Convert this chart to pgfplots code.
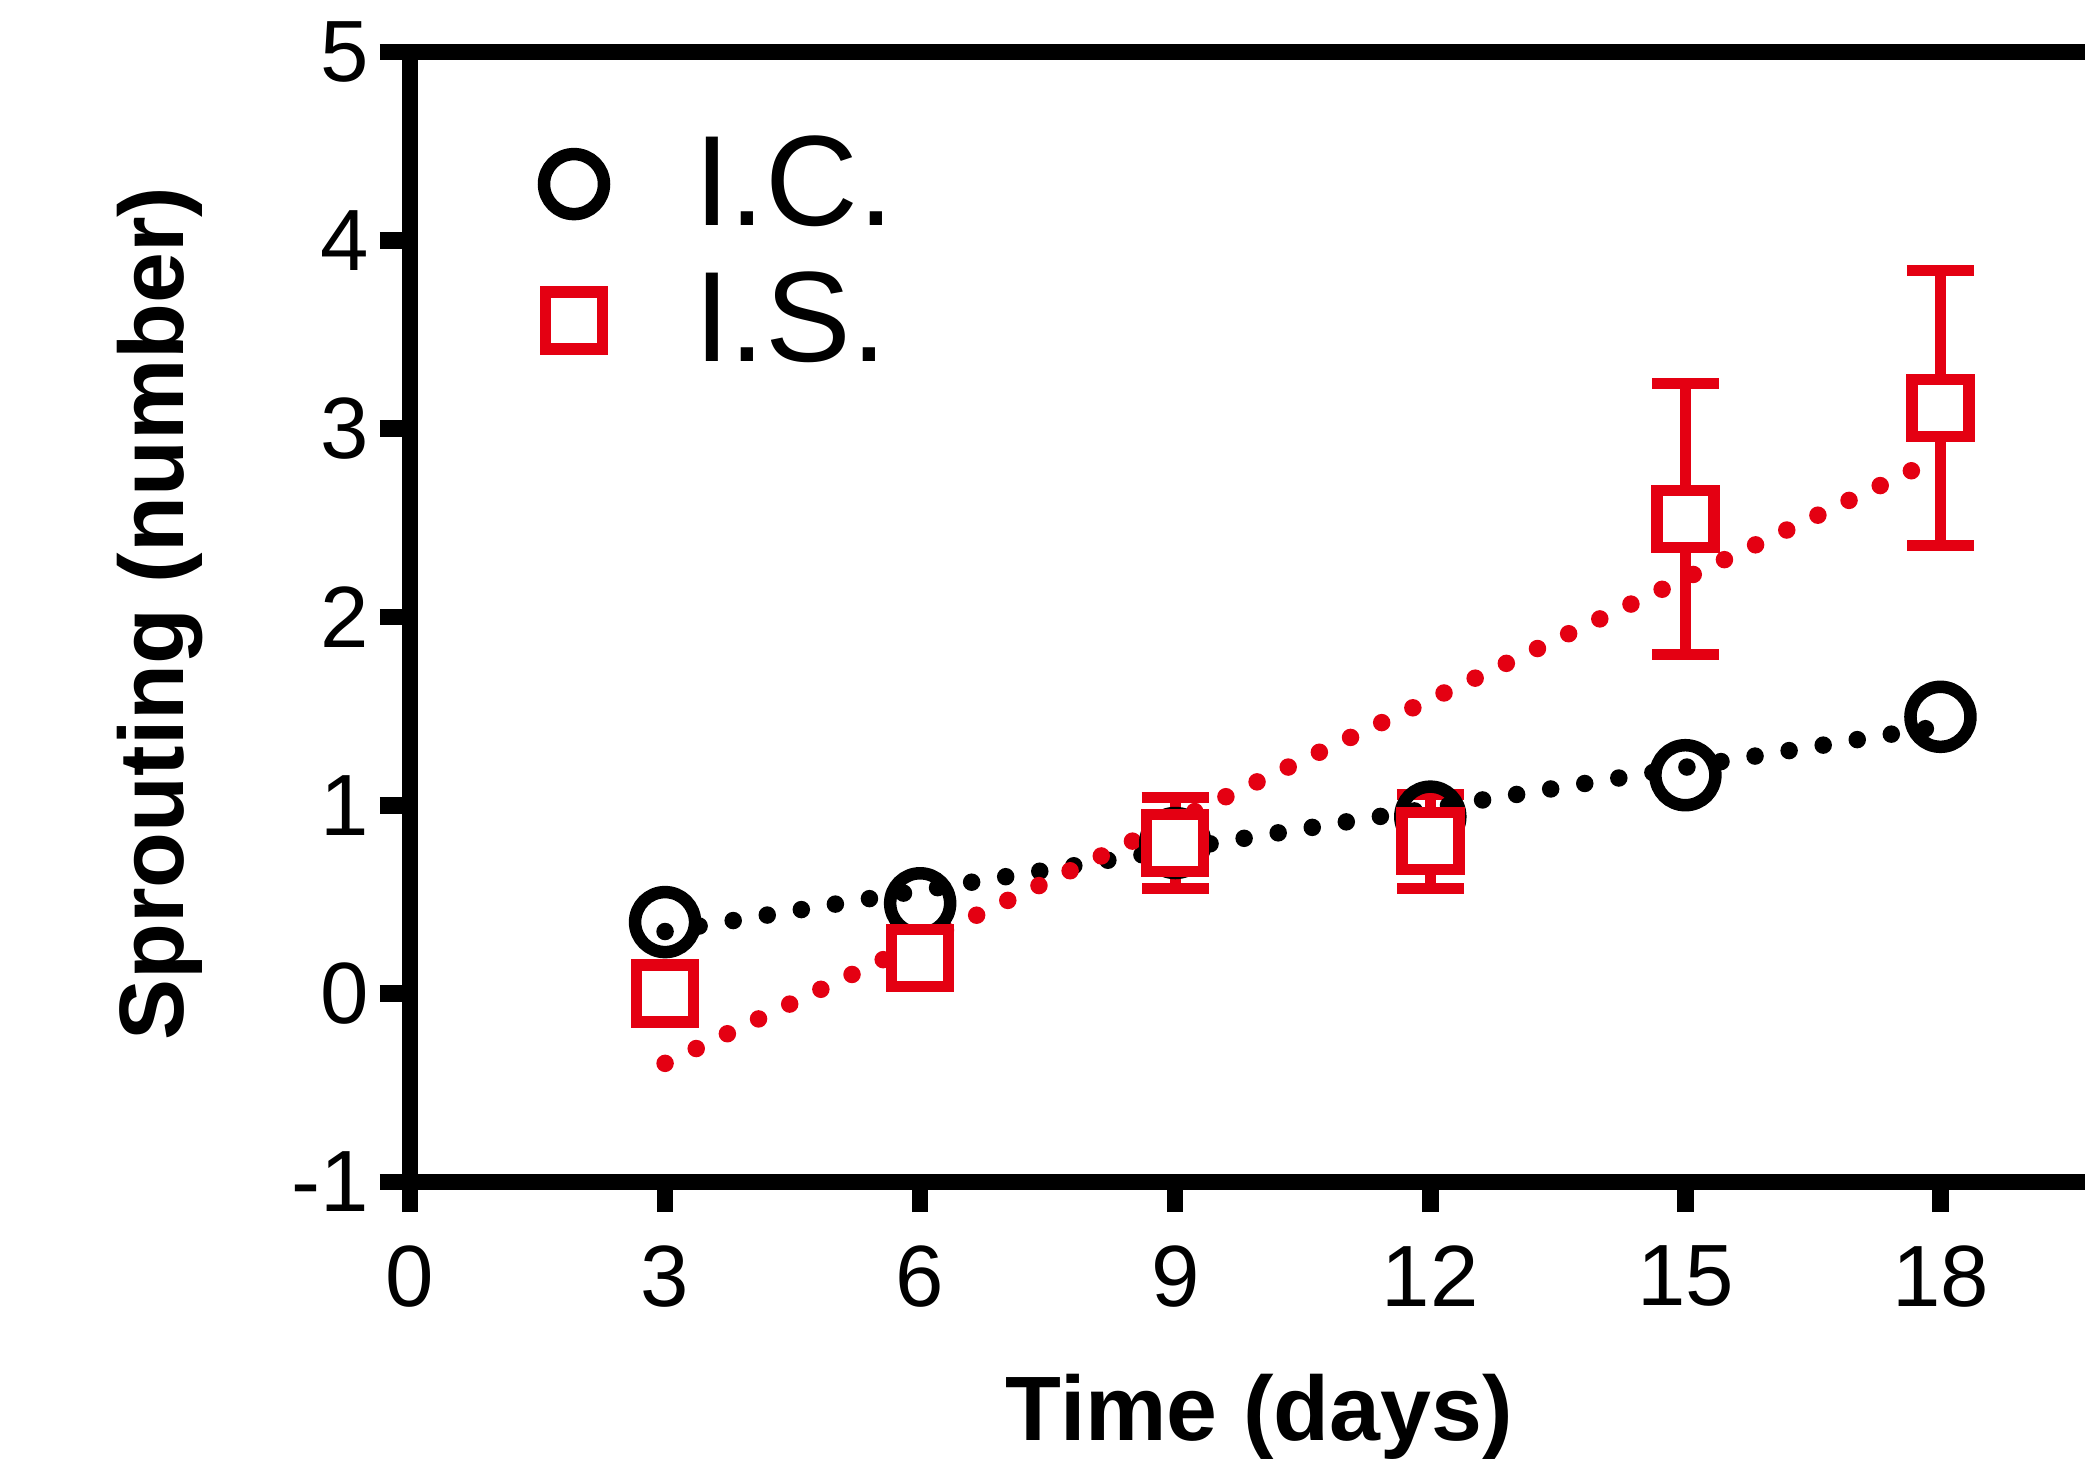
\documentclass[border=0pt]{standalone}
\usepackage{fontspec}
\setmainfont{Liberation Sans}
\usepackage{pgfplots}
\usepackage{pgfplotstable}
\pgfplotsset{compat=1.18}

\definecolor{isred}{RGB}{228,0,18}

% Sprouting counts over time
\pgfplotstableread{
x   y
3   0.38
6   0.48
9   0.80
12  0.94
15  1.16
18  1.47
}\ictable

\pgfplotstableread{
x   y     e
3   0.00  0
6   0.19  0
9   0.80  0.24
12  0.81  0.25
15  2.52  0.72
18  3.11  0.73
}\istable

% Linear fits, end points at day 3 and day 18
\pgfplotstableread{
x   y
3   0.33
18  1.42
}\icfit

\pgfplotstableread{
x   y
3   -0.37
18  2.85
}\isfit

\begin{document}
\begin{tikzpicture}
\begin{axis}[
  scale only axis,
  width=335pt, height=226pt,
  xmin=0, xmax=19.7, ymin=-1, ymax=5,
  clip=false,
  axis x line*=box, axis y line*=left,
  xtick pos=left,
  xtick={0,3,...,18}, ytick={-1,0,...,5},
  tick align=outside,
  major tick length=6pt,
  axis line style={line width=3.3pt, black},
  tick style={line width=3.3pt, black},
  /pgf/number format/assume math mode=true,
  tick label style={font=\fontsize{17.4}{20}\selectfont, inner sep=0pt},
  yticklabel style={xshift=-2pt},
  xticklabel style={yshift=-6.5pt},
  xlabel={Time (days)},
  ylabel={Sprouting (number)},
  label style={font=\fontsize{18.3}{22}\selectfont\bfseries},
  x label style={at={(axis description cs:0.507,0)}, anchor=center, yshift=-47pt},
  y label style={at={(axis description cs:-0.149,0.503)}, anchor=center},
  legend style={
    at={(rel axis cs:0.0794,0.927)}, anchor=north west,
    draw=none, fill=none, inner sep=0pt,
    font=\fontsize{25.7}{30}\selectfont,
    nodes={inner sep=0pt},
    row sep=7.8pt, column sep=18pt,
    cells={anchor=west},
  },
  legend image code/.code={\draw[#1, mark repeat=1] plot coordinates {(0pt,0pt)};},
]
\coordinate (O) at (rel axis cs:0,0);

% error bars of the I.S. group
\addplot[forget plot, only marks, mark=none, isred,
  error bars/.cd, y dir=both, y explicit,
  error bar style={line width=2.2pt, isred},
  error mark options={rotate=90, mark size=6.7pt, line width=2.2pt, isred}]
  table[x=x, y=y, y error=e] {\istable};

\addplot[only marks, mark=o, mark size=6pt, black,
  mark options={line width=2.5pt, fill=none}]
  table[x=x, y=y] {\ictable};
\addlegendentry{I.C.}

\addplot[only marks, mark=square*, mark size=5.7pt, isred,
  mark options={line width=2.3pt, draw=isred, fill=white}]
  table[x=x, y=y] {\istable};
\addlegendentry{I.S.}

% dotted trend lines
\addplot[forget plot, black, line width=3.5pt, line cap=round,
  dash pattern=on 0pt off 6.9pt] table[x=x, y=y] {\icfit};
\addplot[forget plot, isred, line width=3.5pt, line cap=round,
  dash pattern=on 0pt off 6.9pt] table[x=x, y=y] {\isfit};
\end{axis}
\pgfresetboundingbox
\path[use as bounding box] ([xshift=-82pt,yshift=-58pt]O) rectangle ([xshift=335pt,yshift=236.4pt]O);
\end{tikzpicture}
\end{document}
